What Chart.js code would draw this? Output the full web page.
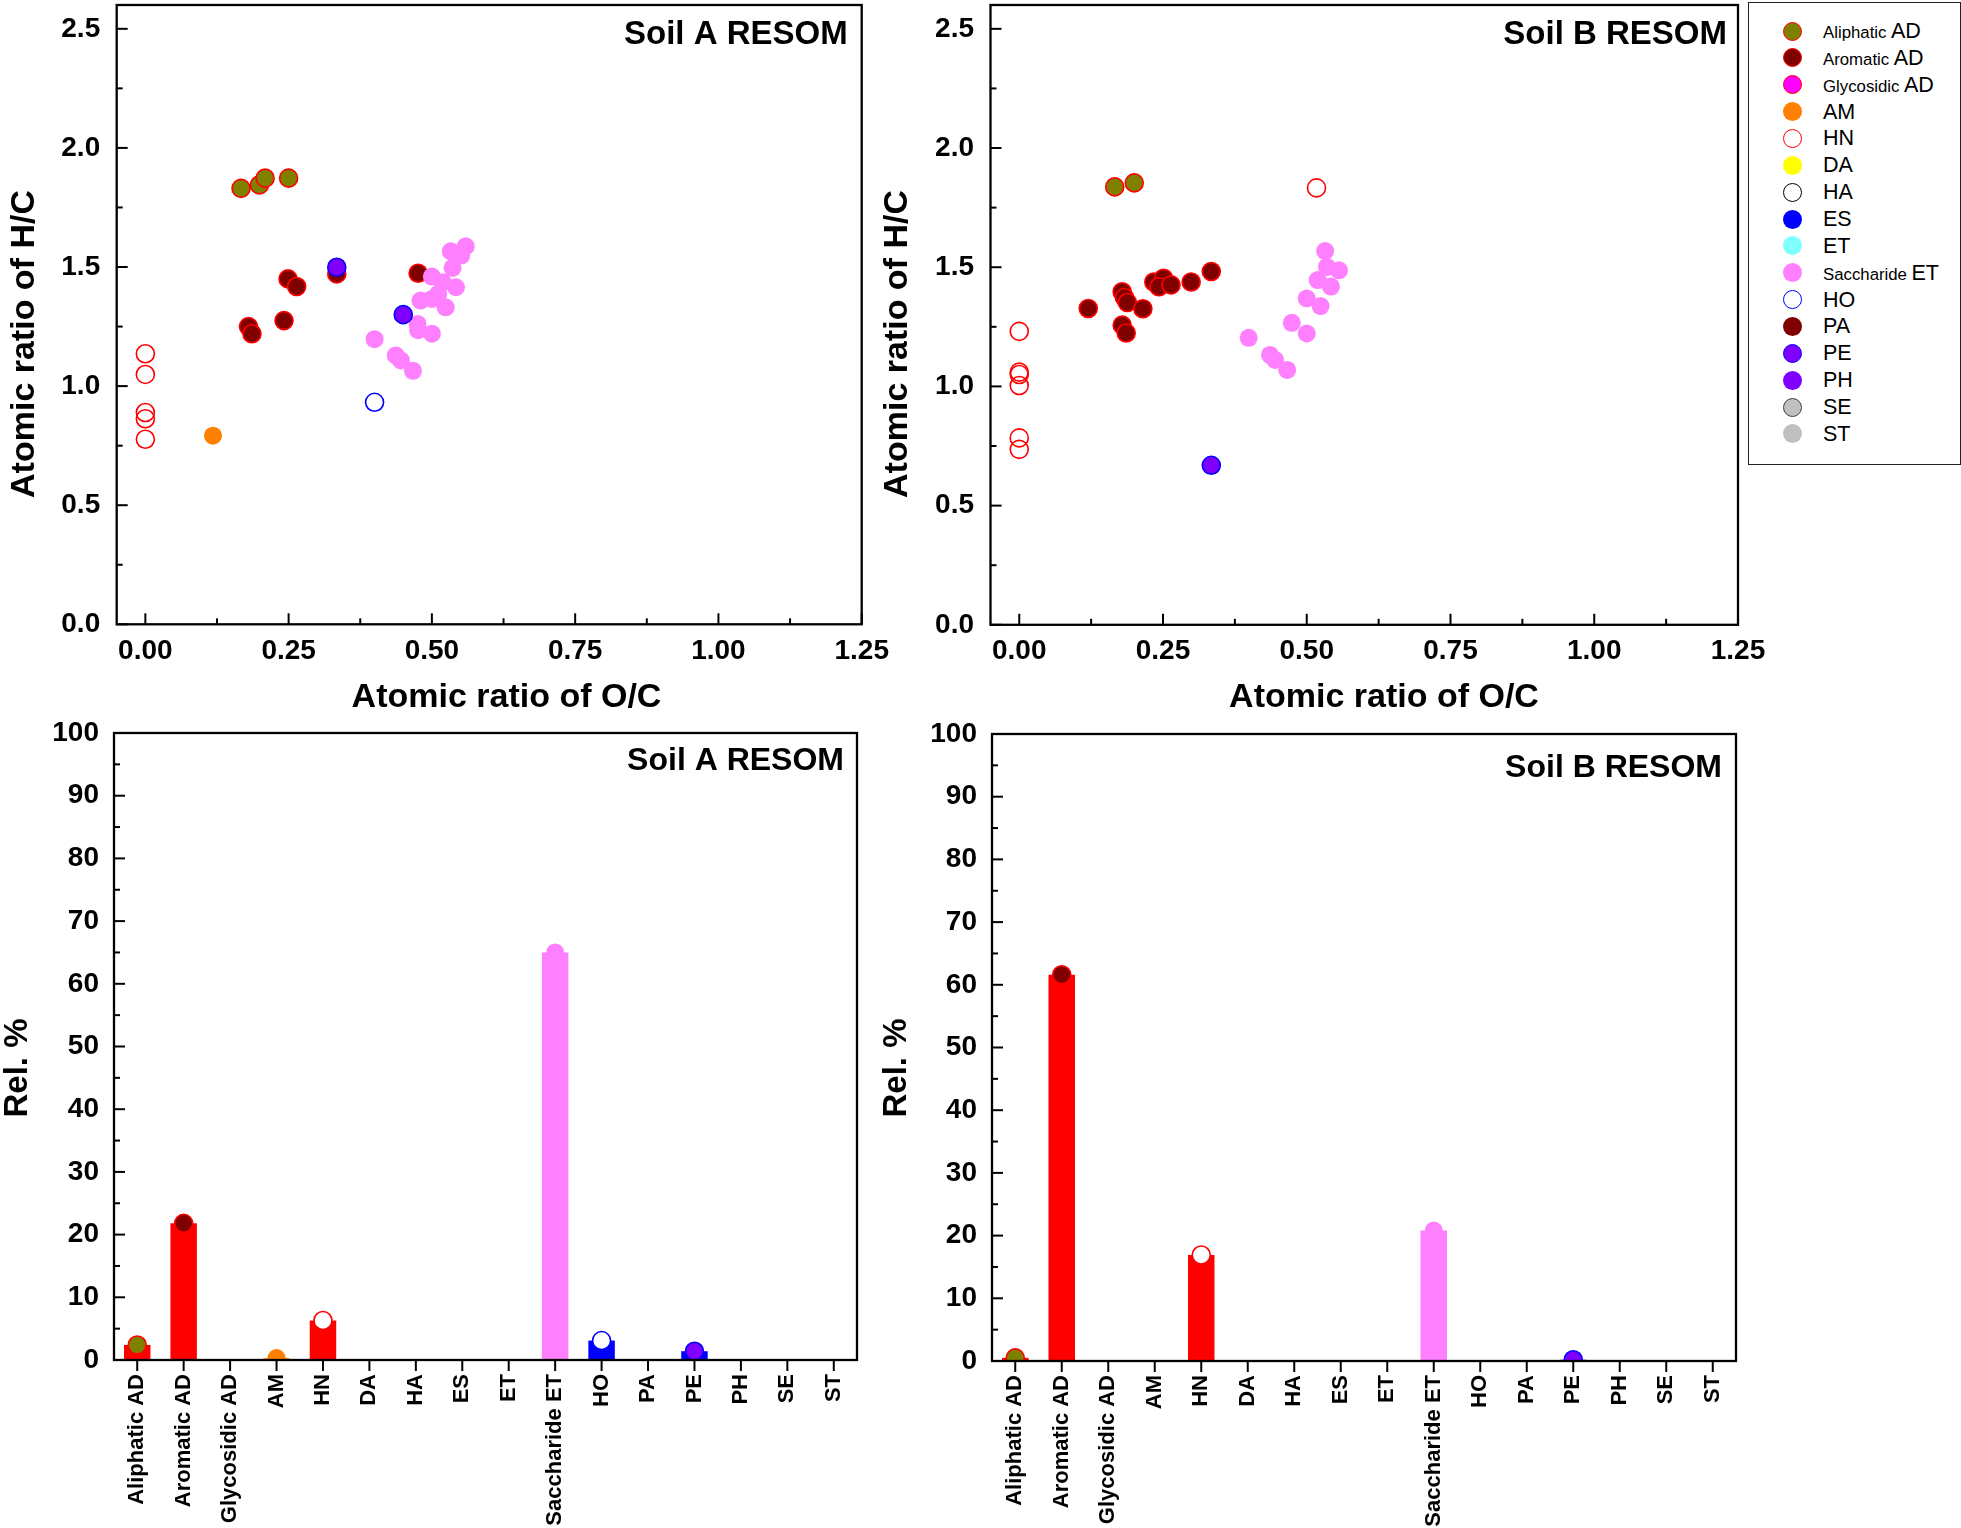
<!DOCTYPE html>
<html>
<head>
<meta charset="utf-8">
<script src="https://cdn.jsdelivr.net/npm/chart.js@4.4.1/dist/chart.umd.min.js"></script>
<style>
  html, body { margin: 0; padding: 0; background: #fff; }
  body { width: 1961px; height: 1528px; position: relative; overflow: hidden;
         font-family: "Liberation Sans", Arial, sans-serif; }
  canvas { position: absolute; }
  .lg-box { position: absolute; left: 1748px; top: 2px; width: 213px; height: 463px;
            border: 1.4px solid #222; box-sizing: border-box; background: #fff; }
  .lg-mk { position: absolute; width: 19px; height: 19px; border-radius: 50%; box-sizing: border-box; }
  .lg-tx { position: absolute; height: 26px; line-height: 26px; white-space: nowrap; color: #000; }
  .sm { font-size: 16.8px; }
  .bg { font-size: 21.5px; }
</style>
</head>
<body>
<canvas id="scA" width="910" height="720" style="left:0;top:0"></canvas>
<canvas id="scB" width="910" height="720" style="left:870px;top:0"></canvas>
<canvas id="brA" width="900" height="808" style="left:0;top:720px"></canvas>
<canvas id="brB" width="900" height="808" style="left:870px;top:720px"></canvas>
<div class="lg-box" id="legend"></div>
<script>
// ---------------- DATA ----------------
const categories = ['Aliphatic AD','Aromatic AD','Glycosidic AD','AM','HN','DA','HA','ES','ET','Saccharide ET','HO','PA','PE','PH','SE','ST'];

// Van Krevelen points, Soil A: [O/C, H/C]
const soilA_AliphaticAD = [[0.167,1.830],[0.199,1.845],[0.209,1.873],[0.250,1.873]];
const soilA_AromaticAD  = [[0.249,1.450],[0.264,1.418],[0.180,1.250],[0.186,1.220],[0.242,1.275],[0.334,1.471],[0.476,1.474]];
const soilA_AM          = [[0.118,0.792]];
const soilA_HN          = [[0,1.136],[0,1.049],[0,0.889],[0,0.863],[0,0.777]];
const soilA_SaccharideET= [[0.400,1.197],[0.437,1.129],[0.446,1.108],[0.467,1.064],[0.475,1.261],[0.476,1.235],
                           [0.500,1.220],[0.480,1.359],[0.500,1.366],[0.524,1.331],[0.511,1.387],[0.500,1.460],
                           [0.519,1.436],[0.542,1.415],[0.536,1.496],[0.533,1.566],[0.551,1.548],[0.559,1.587]];
const soilA_HO          = [[0.400,0.932]];
const soilA_PE          = [[0.334,1.499],[0.450,1.300]];

// Van Krevelen points, Soil B: [O/C, H/C]
const soilB_AliphaticAD = [[0.166,1.837],[0.200,1.854]];
const soilB_AromaticAD  = [[0.120,1.327],[0.179,1.397],[0.183,1.373],[0.188,1.352],[0.215,1.326],[0.179,1.257],
                           [0.186,1.224],[0.234,1.438],[0.251,1.454],[0.243,1.418],[0.264,1.426],[0.299,1.438],[0.334,1.482]];
const soilB_HN          = [[0.517,1.833],[0,1.231],[0,1.060],[0,1.050],[0,1.004],[0,0.784],[0,0.736]];
const soilB_SaccharideET= [[0.399,1.204],[0.436,1.132],[0.445,1.111],[0.466,1.069],[0.474,1.267],[0.500,1.222],
                           [0.500,1.369],[0.524,1.337],[0.519,1.446],[0.542,1.419],[0.535,1.501],[0.556,1.487],[0.532,1.568]];
const soilB_PE          = [[0.334,0.669]];

// Relative abundance (%) per category
const relA = [2.4, 21.8, 0, 0.3, 6.3, 0, 0, 0, 0, 65.0, 3.1, 0, 1.4, 0, 0, 0];
const relB = [0.5, 61.6, 0, 0, 16.9, 0, 0, 0, 0, 20.8, 0, 0, 0.2, 0, 0, 0];

// Tick values
const ocTicks  = [0, 0.25, 0.5, 0.75, 1.0, 1.25];
const hcTicks  = [0, 0.5, 1.0, 1.5, 2.0, 2.5];
const relTicks = [0, 10, 20, 30, 40, 50, 60, 70, 80, 90, 100];

// ---------------- STYLES ----------------
const FONT = '"Liberation Sans", Arial, sans-serif';
const NONE = 'rgba(0,0,0,0)';
const mk = {
  'Aliphatic AD':  {bg:'#808000', bd:'#FF0000', bw:1.6},
  'Aromatic AD':   {bg:'#800000', bd:'#FF0000', bw:1.6},
  'Glycosidic AD': {bg:'#FF00FF', bd:'#FF0000', bw:1.6},
  'AM':            {bg:'#FF8000', bd:'#FF8000', bw:0},
  'HN':            {bg:NONE, bd:'#FF0000', bw:1.6, open:true},
  'DA':            {bg:'#FFFF00', bd:'#FFFF00', bw:0},
  'HA':            {bg:NONE, bd:'#000000', bw:1.6, open:true},
  'ES':            {bg:'#0000FF', bd:'#0000FF', bw:0},
  'ET':            {bg:'#80FFFF', bd:'#80FFFF', bw:0},
  'Saccharide ET': {bg:'#FF80FF', bd:'#FF80FF', bw:0},
  'HO':            {bg:NONE, bd:'#0000FF', bw:1.6, open:true},
  'PA':            {bg:'#800000', bd:'#800000', bw:0},
  'PE':            {bg:'#8000FF', bd:'#0000FF', bw:1.6},
  'PH':            {bg:'#8000FF', bd:'#8000FF', bw:0},
  'SE':            {bg:'#C0C0C0', bd:'#404040', bw:1.6},
  'ST':            {bg:'#C0C0C0', bd:'#C0C0C0', bw:0}
};
const barCol = {'Aliphatic AD':'#FF0000','Aromatic AD':'#FF0000','AM':'#FF8000','HN':'#FF0000',
                'Saccharide ET':'#FF80FF','HO':'#0000FF','PE':'#0000FF'};

// ---------------- PLUGIN: frame, ticks, labels, titles ----------------
const decor = {
  id: 'decor',
  afterDatasetsDraw(chart, args, o) {
    const {ctx, chartArea: a} = chart;
    const xs = chart.scales.x, ys = chart.scales.y;
    const line = (x1,y1,x2,y2) => { ctx.beginPath(); ctx.moveTo(x1,y1); ctx.lineTo(x2,y2); ctx.stroke(); };
    ctx.save();
    ctx.strokeStyle = '#000'; ctx.lineWidth = 2;
    o.yMajor.forEach(v => { const p = ys.getPixelForValue(v); line(a.left, p, a.left + 11, p); });
    o.yMinor.forEach(v => { const p = ys.getPixelForValue(v); line(a.left, p, a.left + 6, p); });
    o.xMajor.forEach(v => { const p = xs.getPixelForValue(v); line(p, a.bottom, p, a.bottom + o.xLen); });
    o.xMinor.forEach(v => { const p = xs.getPixelForValue(v); line(p, a.bottom, p, a.bottom + o.xMinLen); });
    ctx.lineWidth = 2.3;
    ctx.strokeRect(a.left, a.top, a.right - a.left, a.bottom - a.top);
    ctx.fillStyle = '#000';
    ctx.font = 'bold ' + o.psize + 'px ' + FONT;
    ctx.textAlign = 'right'; ctx.textBaseline = 'middle';
    ctx.fillText(o.panel, a.right - o.pdx, a.top + o.pdy);
    o.titles.forEach(t => {
      ctx.save();
      ctx.font = 'bold ' + t.size + 'px ' + FONT;
      ctx.textAlign = 'center'; ctx.textBaseline = 'middle';
      ctx.translate(t.x, t.y);
      if (t.rot) ctx.rotate(-Math.PI / 2);
      ctx.fillText(t.text, 0, 0);
      ctx.restore();
    });
    ctx.restore();
  }
};

function mids(arr) { const m = []; for (let i = 0; i < arr.length - 1; i++) m.push((arr[i] + arr[i+1]) / 2); return m; }

// ---------------- SCATTER CHARTS ----------------
function scatterChart(id, series, geo) {
  const datasets = categories.filter(c => series[c]).map(c => {
    const s = mk[c], idx = categories.indexOf(c);
    return { label: c, data: series[c].map(p => ({x: p[0], y: p[1]})),
             backgroundColor: s.bg, borderColor: s.bd, borderWidth: s.bw,
             pointRadius: 9, order: 20 - idx };
  });
  return new Chart(document.getElementById(id), {
    type: 'scatter',
    data: { datasets },
    options: {
      responsive: false, animation: false, events: [],
      layout: { autoPadding: false, padding: { left: 0, top: geo.top, right: geo.right, bottom: 0 } },
      plugins: { legend: { display: false }, tooltip: { enabled: false },
        decor: { xMajor: ocTicks, xMinor: mids(ocTicks), xLen: -11, xMinLen: -6,
                 yMajor: hcTicks, yMinor: mids(hcTicks),
                 panel: geo.panel, psize: 33, pdx: geo.pdx, pdy: geo.pdy, titles: geo.titles } },
      scales: {
        x: { type: 'linear', min: -0.05, max: 1.25,
             grid: { display: false, drawTicks: false }, border: { display: false },
             afterBuildTicks: s => { s.ticks = ocTicks.map(v => ({value: v})); },
             afterFit: s => { s.height = geo.xh; s.paddingLeft = 0; s.paddingRight = 0; },
             ticks: { padding: 10, color: '#000', font: { family: FONT, weight: 'bold', size: 28 },
                      maxRotation: 0, callback: v => Number(v).toFixed(2) } },
        y: { type: 'linear', min: 0, max: 2.6,
             grid: { display: false, drawTicks: false }, border: { display: false },
             afterBuildTicks: s => { s.ticks = hcTicks.map(v => ({value: v})); },
             afterFit: s => { s.width = geo.yw; s.paddingTop = 0; s.paddingBottom = 0; },
             ticks: { padding: 16.5, color: '#000', font: { family: FONT, weight: 'bold', size: 28 },
                      callback: v => Number(v).toFixed(1) } }
      }
    },
    plugins: [decor]
  });
}

scatterChart('scA', {
  'Aliphatic AD': soilA_AliphaticAD, 'Aromatic AD': soilA_AromaticAD, 'AM': soilA_AM, 'HN': soilA_HN,
  'Saccharide ET': soilA_SaccharideET, 'HO': soilA_HO, 'PE': soilA_PE
}, { top: 5, right: 48.3, xh: 95.7, yw: 116.7, panel: 'Soil A RESOM', pdx: 14, pdy: 29.5,
     titles: [ { text: 'Atomic ratio of H/C', x: 25, y: 344, rot: true, size: 34 },
               { text: 'Atomic ratio of O/C', x: 506.5, y: 698, rot: false, size: 34 } ] });

scatterChart('scB', {
  'Aliphatic AD': soilB_AliphaticAD, 'Aromatic AD': soilB_AromaticAD, 'HN': soilB_HN,
  'Saccharide ET': soilB_SaccharideET, 'PE': soilB_PE
}, { top: 5, right: 42, xh: 95.2, yw: 120.5, panel: 'Soil B RESOM', pdx: 11, pdy: 29.5,
     titles: [ { text: 'Atomic ratio of H/C', x: 28, y: 344, rot: true, size: 34 },
               { text: 'Atomic ratio of O/C', x: 514, y: 698, rot: false, size: 34 } ] });

// ---------------- BAR CHARTS ----------------
function barChart(id, values, geo) {
  const barColors = categories.map(c => barCol[c] || '#FF0000');
  const mkVals = values.map(v => v > 0 ? v : null);
  const mkBg = categories.map(c => mk[c].open ? '#FFFFFF' : mk[c].bg);
  const mkBd = categories.map(c => mk[c].bd);
  const mkBw = categories.map(c => mk[c].bw);
  return new Chart(document.getElementById(id), {
    type: 'bar',
    data: {
      labels: categories,
      datasets: [
        { type: 'line', data: mkVals, showLine: false, pointRadius: 9,
          pointBackgroundColor: mkBg, pointBorderColor: mkBd, pointBorderWidth: mkBw, order: 0 },
        { type: 'bar', data: values, backgroundColor: barColors, borderWidth: 0,
          barPercentage: 0.57, categoryPercentage: 1, order: 1 }
      ]
    },
    options: {
      responsive: false, animation: false, events: [],
      layout: { autoPadding: false, padding: { left: 0, top: geo.top, right: geo.right, bottom: 0 } },
      plugins: { legend: { display: false }, tooltip: { enabled: false },
        decor: { xMajor: categories.map((c, i) => i), xMinor: [], xLen: 11, xMinLen: 0,
                 yMajor: relTicks, yMinor: mids(relTicks),
                 panel: geo.panel, psize: 32, pdx: geo.pdx, pdy: geo.pdy, titles: geo.titles } },
      scales: {
        x: { type: 'category', offset: true,
             grid: { display: false, drawTicks: false }, border: { display: false },
             afterFit: s => { s.height = geo.xh; s.paddingLeft = 0; s.paddingRight = 0; },
             ticks: { autoSkip: false, minRotation: 90, maxRotation: 90, padding: 14, color: '#000',
                      font: { family: FONT, weight: 'bold', size: 22 } } },
        y: { type: 'linear', min: 0, max: 100,
             grid: { display: false, drawTicks: false }, border: { display: false },
             afterBuildTicks: s => { s.ticks = relTicks.map(v => ({value: v})); },
             afterFit: s => { s.width = geo.yw; s.paddingTop = 0; s.paddingBottom = 0; },
             ticks: { padding: 15, color: '#000', font: { family: FONT, weight: 'bold', size: 28 } } }
      }
    },
    plugins: [decor]
  });
}

barChart('brA', relA, { top: 13, right: 43, xh: 168, yw: 114, panel: 'Soil A RESOM', pdx: 13, pdy: 28.5,
  titles: [ { text: 'Rel. %', x: 17.5, y: 348, rot: true, size: 33 } ] });
barChart('brB', relB, { top: 14, right: 34, xh: 167, yw: 122, panel: 'Soil B RESOM', pdx: 14, pdy: 34,
  titles: [ { text: 'Rel. %', x: 27, y: 348, rot: true, size: 33 } ] });

// ---------------- LEGEND (HTML) ----------------
(function () {
  categories.forEach((c, i) => {
    const cy = 31 + 26.86 * i;
    const s = mk[c];
    const m = document.createElement('div');
    m.className = 'lg-mk';
    m.style.left = (1792.5 - 9.5) + 'px';
    m.style.top = (cy - 9.5) + 'px';
    m.style.background = s.open ? '#FFFFFF' : s.bg;
    m.style.border = s.bw > 0 ? (s.bw + 'px solid ' + s.bd) : 'none';
    document.body.appendChild(m);
    const t = document.createElement('div');
    t.className = 'lg-tx';
    t.style.left = '1823px';
    t.style.top = (cy - 13) + 'px';
    const parts = c.split(' ');
    if (parts.length > 1) {
      t.innerHTML = '<span class="sm">' + parts[0] + '</span> <span class="bg">' + parts.slice(1).join(' ') + '</span>';
    } else {
      t.innerHTML = '<span class="bg">' + c + '</span>';
    }
    document.body.appendChild(t);
  });
})();
</script>
</body>
</html>
